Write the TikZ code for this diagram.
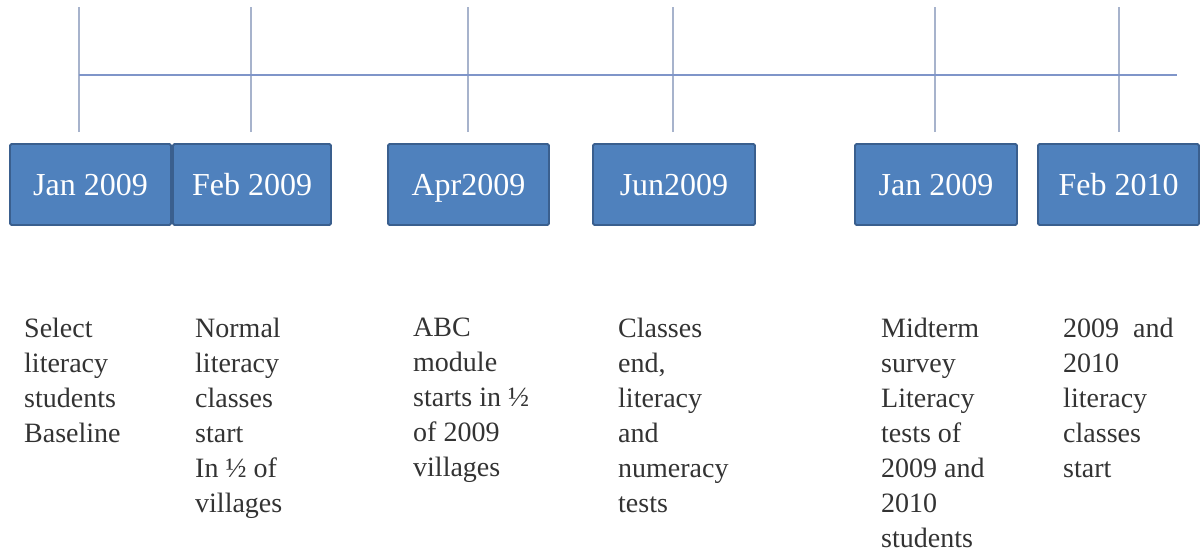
\documentclass[tikz,border=0pt]{standalone}
\usepackage{fontspec}
\setmainfont{Liberation Serif}
\usepackage{tikz}
\definecolor{boxblue}{HTML}{4F81BD}
\definecolor{boxedge}{HTML}{3A5F8E}
\definecolor{axisblue}{HTML}{7F95C9}
\definecolor{tickgray}{HTML}{A7B3CC}
\definecolor{notegray}{HTML}{333333}

\begin{document}
\begin{tikzpicture}[x=1pt,y=-1pt,
        datebox/.style={draw=boxedge, line width=1.8pt, fill=boxblue, rounded corners=1.5pt,
            minimum width=161pt, minimum height=81pt, inner sep=0pt, text=white,
            text height=21pt, text depth=0pt, font=\fontsize{32}{38}\selectfont},
        note/.style={anchor=north west, align=left, inner sep=0pt, text=notegray,
            font=\fontsize{28}{35}\selectfont},
        tick/.style={draw=tickgray, line width=1.5pt},
        axis/.style={draw=axisblue, line width=1.5pt}]
        \useasboundingbox (0,0) rectangle (1201,552);
        \foreach \x in {79,251,468,673,935,1119}
            \draw[tick] (\x,132) -- (\x,7);
        \coordinate (tlstart) at (79,75);
        \coordinate (tlend) at (1177,75);
        \draw[axis] (tlstart) -- (tlend);
        \node[datebox] (jan) at (90.5,184.5) {Jan 2009};
        \node[datebox, minimum width=158pt] (feb) at (252,184.5) {Feb 2009};
        \node[datebox] (apr) at (468.5,184.5) {Apr2009};
        \node[datebox, minimum width=162pt] (jun) at (674,184.5) {Jun2009};
        \node[datebox, minimum width=162pt] (mid) at (936,184.5) {Jan 2009};
        \node[datebox] (feb10) at (1118.5,184.5) {Feb 2010};
        \node[note] (select) at (24,318) {Select\\literacy\\students\\Baseline};
        \node[note] (normal) at (195,318) {Normal\\literacy\\classes\\start\\In ½ of\\villages};
        \node[note] (abc) at (413,318) {ABC\\module\\starts in ½\\of 2009\\villages};
        \node[note] (classes) at (618,318) {Classes\\end,\\literacy\\and\\numeracy\\tests};
        \node[note] (midterm) at (881,318) {Midterm\\survey\\Literacy\\tests of\\2009 and\\2010\\students};
        \node[note] (start) at (1063,318) {2009\ \ and\\2010\\literacy\\classes\\start};
    \end{tikzpicture}
\end{document}
